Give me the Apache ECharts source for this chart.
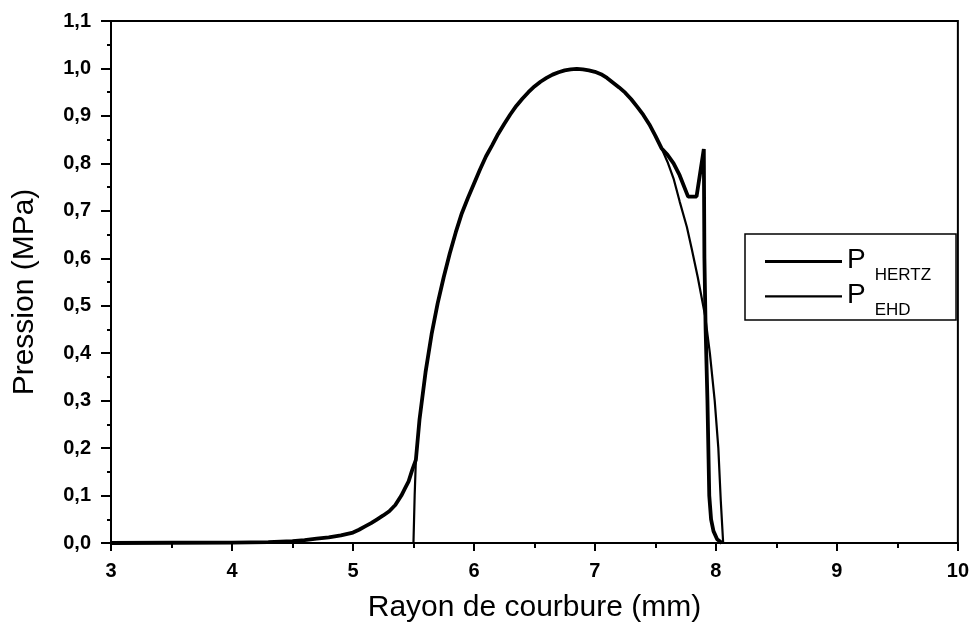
<!DOCTYPE html>
<html>
<head>
<meta charset="utf-8">
<script src="https://cdn.jsdelivr.net/npm/echarts@6/dist/echarts.min.js"></script>
<style>html,body{margin:0;padding:0;background:#fff}#c{width:972px;height:628px}</style>
</head>
<body>
<div id="c"></div>
<script>
// Rayon de courbure (mm) and pression values
const hertzX = [5.50, 5.505, 5.51, 5.52, 5.55, 5.60, 5.65, 5.70, 5.75, 5.80, 5.85, 5.90, 5.95, 6.00, 6.05, 6.10, 6.15, 6.20, 6.25, 6.30, 6.35, 6.40, 6.45, 6.50, 6.55, 6.60, 6.65, 6.70, 6.75, 6.80, 6.85, 6.90, 6.95, 7.00, 7.05, 7.10, 7.15, 7.20, 7.25, 7.30, 7.35, 7.40, 7.45, 7.50, 7.55, 7.60, 7.65, 7.70, 7.76, 7.80, 7.85, 7.91, 7.95, 7.99, 8.02, 8.04, 8.06];
const hertzP = [0, 0.05, 0.10, 0.175, 0.26, 0.36, 0.44, 0.505, 0.56, 0.61, 0.655, 0.695, 0.727, 0.757, 0.787, 0.815, 0.838, 0.862, 0.883, 0.903, 0.921, 0.936, 0.950, 0.962, 0.972, 0.980, 0.987, 0.992, 0.996, 0.998, 0.999, 0.998, 0.996, 0.993, 0.988, 0.980, 0.970, 0.960, 0.949, 0.935, 0.919, 0.902, 0.882, 0.858, 0.832, 0.803, 0.768, 0.72, 0.666, 0.62, 0.56, 0.48, 0.40, 0.30, 0.20, 0.09, 0];

const ehdX = [3.0, 3.5, 4.0, 4.3, 4.5, 4.6, 4.7, 4.8, 4.9, 5.0, 5.05, 5.1, 5.15, 5.2, 5.25, 5.3, 5.35, 5.4, 5.43, 5.46, 5.49, 5.52, 5.55, 5.60, 5.65, 5.70, 5.75, 5.80, 5.85, 5.90, 5.95, 6.00, 6.05, 6.10, 6.15, 6.20, 6.25, 6.30, 6.35, 6.40, 6.45, 6.50, 6.55, 6.60, 6.65, 6.70, 6.75, 6.80, 6.85, 6.90, 6.95, 7.00, 7.05, 7.10, 7.15, 7.20, 7.25, 7.30, 7.35, 7.40, 7.45, 7.50, 7.55, 7.60, 7.65, 7.70, 7.77, 7.84, 7.90, 7.905, 7.915, 7.93, 7.945, 7.96, 7.98, 8.01, 8.05];
const ehdP = [0, 0.0005, 0.001, 0.002, 0.004, 0.006, 0.009, 0.012, 0.016, 0.022, 0.028, 0.035, 0.042, 0.05, 0.058, 0.067, 0.08, 0.10, 0.115, 0.13, 0.154, 0.175, 0.26, 0.36, 0.44, 0.505, 0.56, 0.61, 0.655, 0.695, 0.727, 0.757, 0.787, 0.815, 0.838, 0.862, 0.883, 0.903, 0.921, 0.936, 0.950, 0.962, 0.972, 0.980, 0.987, 0.992, 0.996, 0.998, 0.999, 0.998, 0.996, 0.993, 0.988, 0.980, 0.970, 0.960, 0.949, 0.935, 0.919, 0.902, 0.882, 0.858, 0.832, 0.818, 0.80, 0.775, 0.73, 0.73, 0.83, 0.60, 0.45, 0.30, 0.10, 0.05, 0.025, 0.008, 0];

const seriesNames = ['HERTZ', 'EHD'];
const xTitle = 'Rayon de courbure (mm)';
const yTitle = 'Pression (MPa)';

const zip = (xs, ys) => xs.map((x, i) => [x, ys[i]]);
const font = '"Liberation Sans", Arial, sans-serif';
const iconThick = 'path://M0,0H77V3H0Z M0,20H0.01V20H0Z';
const iconThin = 'path://M0,0.3H77V2.7H0Z M0,20H0.01V20H0Z';

const chart = echarts.init(document.getElementById('c'), null, {renderer: 'canvas'});
chart.setOption({
  animation: false,
  backgroundColor: '#fff',
  grid: {left: 111, right: 14, top: 21, bottom: 85, show: true, borderColor: '#000', borderWidth: 2, backgroundColor: 'transparent'},
  xAxis: {
    type: 'value', min: 3, max: 10, interval: 1,
    name: xTitle, nameLocation: 'middle', nameGap: 50,
    nameTextStyle: {fontFamily: font, fontSize: 30, color: '#000'},
    axisLine: {show: true, lineStyle: {color: '#000', width: 2}},
    axisTick: {show: true, inside: false, length: 8, lineStyle: {color: '#000', width: 2}},
    minorTick: {show: true, splitNumber: 2, length: 5, lineStyle: {color: '#000', width: 2}},
    splitLine: {show: false},
    axisLabel: {margin: 18, fontFamily: font, fontSize: 20, fontWeight: 'bold', color: '#000'}
  },
  yAxis: {
    type: 'value', min: 0, max: 1.1, interval: 0.1,
    name: yTitle, nameLocation: 'middle', nameGap: 71,
    nameTextStyle: {fontFamily: font, fontSize: 30, color: '#000', padding: [0, 20, 0, 0]},
    axisLine: {show: true, lineStyle: {color: '#000', width: 2}},
    axisTick: {show: true, inside: false, length: 10, lineStyle: {color: '#000', width: 2}},
    minorTick: {show: true, splitNumber: 2, length: 4, lineStyle: {color: '#000', width: 2}},
    splitLine: {show: false},
    axisLabel: {margin: 20, fontFamily: font, fontSize: 20, fontWeight: 'bold', color: '#000',
      formatter: v => v.toFixed(1).replace('.', ',')}
  },
  legend: {
    show: true, orient: 'vertical', left: 745, top: 234,
    padding: [6, 25, 1, 20], itemGap: -9, itemWidth: 77, itemHeight: 20,
    borderColor: '#000', borderWidth: 1.5, backgroundColor: '#fff',
    data: [{name: seriesNames[0], icon: iconThick}, {name: seriesNames[1], icon: iconThin}],
    itemStyle: {color: '#000', borderWidth: 0},
    formatter: n => '{p|P}{s|' + n + '}',
    textStyle: {
      color: '#000', fontFamily: font,
      rich: {
        p: {fontSize: 28, lineHeight: 28, fontFamily: font, verticalAlign: 'bottom', padding: [6, 0, 10, 0]},
        s: {fontSize: 17, lineHeight: 17, fontFamily: font, verticalAlign: 'bottom', padding: [0, 0, 0, 9]}
      }
    }
  },
  series: [
    {name: seriesNames[0], type: 'line', data: zip(hertzX, hertzP), symbol: 'none', smooth: false,
     lineStyle: {color: '#000', width: 2.2}, itemStyle: {color: '#000'}, z: 2},
    {name: seriesNames[1], type: 'line', data: zip(ehdX, ehdP), symbol: 'none', smooth: false,
     lineStyle: {color: '#000', width: 3.8}, itemStyle: {color: '#000'}, z: 3}
  ]
});
</script>
</body>
</html>
